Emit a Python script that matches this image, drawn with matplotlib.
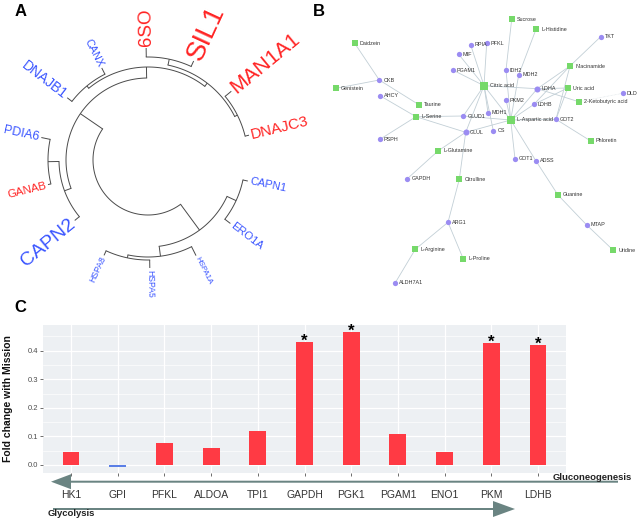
import numpy as np
import matplotlib
matplotlib.use('Agg')
import matplotlib.pyplot as plt
from matplotlib.patches import FancyArrow

plt.rcParams['font.family'] = ['Liberation Sans', 'DejaVu Sans']

# ---------------- Panel C data ----------------
genes = ['HK1', 'GPI', 'PFKL', 'ALDOA', 'TPI1', 'GAPDH', 'PGK1', 'PGAM1', 'ENO1', 'PKM', 'LDHB']
fold_change = [0.044, -0.006, 0.078, 0.060, 0.120, 0.430, 0.466, 0.108, 0.045, 0.426, 0.419]
significant = [False, False, False, False, False, True, True, False, False, True, True]
y_ticks = [0.0, 0.1, 0.2, 0.3, 0.4]

# ---------------- Panel A data (circular dendrogram) ----------------
leaves = ['CAPN1', 'ERO1A', 'HSPA1A', 'HSPA5', 'HSPA8', 'CAPN2', 'GANAB', 'PDIA6',
          'DNAJB1', 'CANX', '6SO', 'SIL1', 'MAN1A1', 'DNAJC3']
leaf_height = [102, 104, 107, 108, 105, 95, 103, 109, 102, 103, 112, 109, 108, 104]
leaf_fontsize = [8, 8, 5.6, 6.2, 6.2, 14, 8.2, 9, 10, 7.8, 13.5, 20, 15, 11]
leaf_up = [False, False, False, False, False, False, True, False, False, False, True, True, True, True]
# merges: (child a, child b, height); new node ids start at len(leaves)
merges = [(10, 11, 103), (12, 13, 100), (14, 15, 97), (8, 9, 96), (17, 16, 93),
          (6, 7, 100), (5, 19, 89), (20, 18, 82), (0, 1, 97), (3, 4, 100),
          (2, 23, 97), (22, 24, 87), (25, 21, 55)]

# ---------------- Panel B data (network) ----------------
node_names = ['Sucrose', 'L-Histidine', 'RPIA', 'PFKL', 'TKT', 'Daidzein', 'MIF', 'PGAM1', 'IDH2',
              'MDH2', 'Niacinamide', 'CKB', 'Genistein', 'Citric acid', 'LDHA', 'Uric acid', 'DLD',
              'AHCY', 'PKM2', '2-Ketobutyric acid', 'Taurine', 'LDHB', 'MDH1', 'GLUD1', 'L-Serine',
              'L-Aspartic acid', 'GOT2', 'GLUL', 'CS', 'PSPH', 'Phloretin', 'L-Glutamine', 'GOT1',
              'ADSS', 'GAPDH', 'Citrulline', 'Guanine', 'ARG1', 'MTAP', 'L-Arginine', 'L-Proline',
              'Uridine', 'ALDH7A1']
node_x = [511.7, 536, 470.7, 486.7, 600.7, 354.7, 458.7, 452.7, 506, 518.7, 570, 379.3, 336, 484,
          537.3, 567.7, 622.7, 380, 506, 578.7, 419.3, 534, 488, 463.3, 416, 510.7, 556, 465.7,
          493.3, 380, 590.7, 438, 515, 536, 407.3, 459.3, 558, 448, 586.7, 415.3, 463.3, 613.3, 395.3]
node_y = [19.3, 29.3, 45, 43.3, 36.7, 43.3, 54.3, 70, 70, 75, 66, 80, 88.3, 85.7, 88.7, 88, 93.3,
          95.7, 100, 101.7, 105, 104.3, 112.7, 116, 116.7, 120, 119.3, 132.3, 130.7, 139.3, 141,
          151, 159, 161, 178.7, 179.3, 195, 222.3, 225, 249.3, 259, 250.3, 282.7]
node_kind = ['m', 'm', 'g', 'g', 'g', 'm', 'g', 'g', 'g', 'g', 'm', 'g', 'm', 'M', 'G', 'm', 'g',
             'g', 'g', 'm', 'm', 'g', 'g', 'g', 'm', 'M', 'g', 'G', 'g', 'g', 'm', 'm', 'g', 'g',
             'g', 'm', 'm', 'g', 'g', 'm', 'm', 'm', 'g']
edges = [('Daidzein', 'CKB'), ('Genistein', 'CKB'), ('CKB', 'Taurine'), ('AHCY', 'L-Serine'),
         ('PSPH', 'L-Serine'), ('L-Serine', 'GLUD1'), ('L-Serine', 'GLUL'), ('GLUD1', 'Citric acid'),
         ('GLUD1', 'L-Aspartic acid'), ('GLUL', 'Citric acid'), ('GLUL', 'L-Glutamine'),
         ('GLUL', 'Citrulline'), ('GLUL', 'L-Aspartic acid'), ('L-Glutamine', 'GAPDH'),
         ('Citrulline', 'ARG1'), ('ARG1', 'L-Arginine'), ('ARG1', 'L-Proline'),
         ('L-Arginine', 'ALDH7A1'), ('Citric acid', 'RPIA'), ('Citric acid', 'PFKL'),
         ('Citric acid', 'MIF'), ('Citric acid', 'PGAM1'), ('Citric acid', 'LDHA'),
         ('Citric acid', 'MDH1'), ('Citric acid', 'CS'), ('Citric acid', 'L-Aspartic acid'),
         ('Sucrose', 'IDH2'), ('IDH2', 'L-Aspartic acid'), ('MDH2', 'L-Aspartic acid'),
         ('L-Histidine', 'MDH2'), ('PKM2', 'L-Aspartic acid'), ('LDHA', 'L-Aspartic acid'),
         ('LDHB', 'L-Aspartic acid'), ('GOT2', 'L-Aspartic acid'), ('GOT1', 'L-Aspartic acid'),
         ('ADSS', 'L-Aspartic acid'), ('Niacinamide', 'TKT'), ('Niacinamide', 'LDHA'),
         ('Niacinamide', 'GOT2'), ('Uric acid', 'LDHA'), ('Uric acid', 'GOT2'),
         ('LDHA', '2-Ketobutyric acid'), ('LDHB', 'Uric acid'), ('LDHB', 'Niacinamide'),
         ('GOT2', 'Phloretin'), ('ADSS', 'Guanine'), ('Guanine', 'MTAP'), ('MTAP', 'Uridine')]
faint_edges = [('DLD', '2-Ketobutyric acid')]

# ================= figure =================
fig = plt.figure(figsize=(6.38, 5.21), dpi=100)

# ---------- Panel C: bar chart ----------
W, H = 638, 521
axc = fig.add_axes([43 / W, 1 - 472.7 / H, 523 / W, 147.7 / H])
xpos = np.arange(len(genes))
bar_colors = ['#FF3A44' if v >= 0 else '#5B7FE6' for v in fold_change]
axc.bar(xpos, fold_change, width=0.36, color=bar_colors, zorder=3)
for i, (v, s) in enumerate(zip(fold_change, significant)):
    if s:
        axc.annotate('*', (xpos[i], v), xytext=(0, -2.5), textcoords='offset points',
                     ha='center', va='baseline', fontsize=12, fontweight='bold',
                     color='black', annotation_clip=False)
axc.set_facecolor('#EDF0F3')
axc.set_xlim(-0.6, len(genes) - 0.4)
axc.set_ylim(-0.027, 0.49)
axc.set_yticks(y_ticks)
axc.set_yticklabels(['%.1f' % t for t in y_ticks])
axc.set_yticks(np.arange(0.05, 0.5, 0.1), minor=True)
axc.set_xticks(xpos)
axc.set_xticklabels(genes)
axc.grid(which='major', color='white', lw=0.9, zorder=0)
axc.grid(which='minor', axis='y', color='white', lw=0.45, zorder=0)
axc.set_axisbelow(True)
for sp in axc.spines.values():
    sp.set_visible(False)
axc.tick_params(axis='y', which='major', length=2, width=0.6, color='#555555',
                labelsize=5.5, labelcolor='#4D4D4D', pad=1.5)
axc.tick_params(axis='y', which='minor', length=0)
axc.tick_params(axis='x', length=2, width=0.6, color='#555555', labelsize=7.5,
                labelcolor='#333333', pad=10.5)

# ---------- overlay in pixel coordinates ----------
ov = fig.add_axes([0, 0, 1, 1], zorder=5)
ov.set_xlim(0, W)
ov.set_ylim(H, 0)
ov.axis('off')
ov.patch.set_alpha(0)

# panel letters
for lab, (lx, ly) in zip(['A', 'B', 'C'], [(20.5, 11), (318.5, 11), (20, 307.5)]):
    ov.text(lx, ly, lab, fontsize=12, fontweight='bold', ha='center', va='center')

# ---------- Panel A: circular dendrogram ----------
cx, cy = 148, 160
n = len(leaves)
step = 360.0 / n
theta0 = 101.9
ang = {i: theta0 + i * step for i in range(n)}
hgt = {i: leaf_height[i] for i in range(n)}


def pt(r, th):
    t = np.radians(th)
    return cx + r * np.sin(t), cy - r * np.cos(t)


lc = '#4A4A4A'
for k, (a, b, h) in enumerate(merges):
    node = n + k
    ang[node] = (ang[a] + ang[b]) / 2.0
    hgt[node] = h
    for c in (a, b):
        x0, y0 = pt(h, ang[c])
        x1, y1 = pt(hgt[c], ang[c])
        ov.plot([x0, x1], [y0, y1], color=lc, lw=0.7, solid_capstyle='butt')
    ths = np.linspace(ang[a], ang[b], 80)
    xs, ys = pt(h, ths)
    ov.plot(xs, ys, color=lc, lw=0.7)

for i in range(n):
    th = ang[i]
    t = ((th + 5) % 360) - 5
    lx, ly = pt(leaf_height[i] + 2, th)
    if t < 180:
        rot, ha = 90 - t, 'left'
    else:
        rot, ha = 270 - t, 'right'
    ov.text(lx, ly, leaves[i], fontsize=leaf_fontsize[i], rotation=rot, rotation_mode='anchor',
            ha=ha, va='center', color='#FF2424' if leaf_up[i] else '#3A55FF')

# ---------- Panel B: network ----------
pos = {nm: (x, y) for nm, x, y in zip(node_names, node_x, node_y)}
for a, b in edges:
    ov.plot([pos[a][0], pos[b][0]], [pos[a][1], pos[b][1]], color='#C2CFD6', lw=0.6, zorder=1)
for a, b in faint_edges:
    ov.plot([pos[a][0], pos[b][0]], [pos[a][1], pos[b][1]], color='#DDE4E8', lw=0.5,
            ls=(0, (1, 1)), zorder=1)
style = {'g': ('o', 14.5, '#9B8CF2', 4.0), 'G': ('o', 19, '#9B8CF2', 4.3),
         'm': ('s', 13, '#76D96A', 5.0), 'M': ('s', 30, '#76D96A', 6.5)}
for nm, x, y, kd in zip(node_names, node_x, node_y, node_kind):
    mk, sz, col, off = style[kd]
    ov.scatter([x], [y], marker=mk, s=sz, color=col, linewidths=0, zorder=3)
    ov.text(x + off, y, nm, fontsize=3.9, ha='left', va='center', color='#333333', zorder=4)

# ---------- Panel C: pathway arrows ----------
acol = '#6A8482'
ov.add_patch(FancyArrow(618, 481.7, 51 - 618, 0, width=2.0, head_width=15, head_length=20,
                        length_includes_head=True, color=acol, lw=0))
ov.add_patch(FancyArrow(53, 509, 515 - 53, 0, width=2.0, head_width=16, head_length=22,
                        length_includes_head=True, color=acol, lw=0))
ov.text(592, 480, 'Gluconeogenesis', fontsize=6.8, fontweight='bold', ha='center',
        va='baseline', color='#222222')
ov.text(48, 516.5, 'Glycolysis', fontsize=6.8, fontweight='bold', ha='left',
        va='baseline', color='#222222')
ov.text(8.5, 398.5, 'Fold change with Mission', fontsize=7.5, fontweight='bold', rotation=90,
        ha='center', va='center', color='#111111')

fig.savefig('out.png', dpi=100)
